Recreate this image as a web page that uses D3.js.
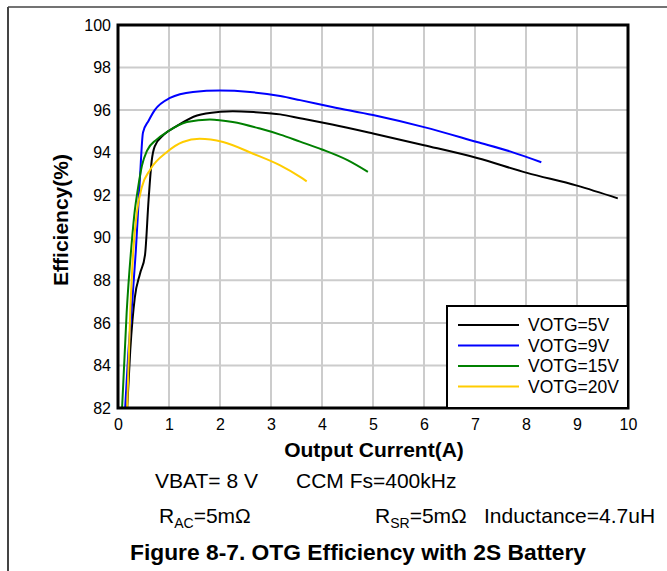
<!DOCTYPE html>
<html><head><meta charset="utf-8">
<script src="https://cdn.jsdelivr.net/npm/d3@7"></script>
<style>body{margin:0;background:#fff}svg{display:block;font-family:Arial,"Liberation Sans",sans-serif}</style>
</head><body>
<script>
const seriesNames = ["VOTG=5V","VOTG=9V","VOTG=15V","VOTG=20V"];
const seriesColors = ["#000000","#0000ff","#008000","#ffcc00"];
const xTicks = [0,1,2,3,4,5,6,7,8,9,10];
const yTicks = [82,84,86,88,90,92,94,96,98,100];
const v5  = [[0.18,82],[0.24,84.7],[0.33,87.2],[0.43,88.3],[0.53,89.2],[0.6,91.8],[0.66,93.6],[0.72,94.3],[0.9,94.85],[1.15,95.25],[1.55,95.75],[2.0,95.92],[2.25,95.95],[2.7,95.9],[3.18,95.8],[3.57,95.62],[4.2,95.32],[5.0,94.9],[6.0,94.35],[7.04,93.75],[8.02,93.05],[9.0,92.45],[9.8,91.85]];
const v9  = [[0.14,82],[0.2,84.5],[0.27,86.7],[0.35,89.4],[0.43,92.8],[0.49,94.95],[0.6,95.5],[0.72,96.0],[1.02,96.57],[1.47,96.85],[2.0,96.92],[2.59,96.85],[3.18,96.66],[3.57,96.47],[4.2,96.15],[5.0,95.77],[6.0,95.2],[7.04,94.5],[7.7,94.05],[8.3,93.55]];
const v15 = [[0.08,82],[0.17,86.5],[0.27,89.8],[0.33,91.3],[0.39,92.3],[0.47,93.4],[0.57,94.1],[0.75,94.6],[0.96,94.97],[1.35,95.44],[1.8,95.56],[2.25,95.44],[2.8,95.12],[3.18,94.85],[3.57,94.52],[4.0,94.15],[4.5,93.65],[4.9,93.1]];
const v20 = [[0.18,82],[0.24,86.5],[0.3,89.4],[0.37,91.2],[0.47,92.4],[0.63,93.2],[0.96,94.03],[1.27,94.5],[1.6,94.65],[2.06,94.5],[2.65,93.95],[3.18,93.4],[3.57,92.86],[3.7,92.65]];
const allSeries = [v5,v9,v15,v20];

const W=667,H=571;
const svg=d3.select("body").append("svg").attr("width",W).attr("height",H);
// page frame
svg.append("line").attr("x1",8).attr("x2",W).attr("y1",7).attr("y2",7).attr("stroke","#444").attr("stroke-width",1.5);
svg.append("line").attr("x1",8).attr("x2",8).attr("y1",7).attr("y2",H).attr("stroke","#444").attr("stroke-width",2);

const L=118,R=628,T=25,B=408;
const x=d3.scaleLinear().domain([0,10]).range([L,R]);
const y=d3.scaleLinear().domain([82,100]).range([B,T]);

// grid
svg.append("g").selectAll("line").data(xTicks.slice(1,-1)).join("line")
  .attr("x1",d=>x(d)).attr("x2",d=>x(d)).attr("y1",T).attr("y2",B).attr("stroke","#cccccc").attr("stroke-width",2);
svg.append("g").selectAll("line").data(yTicks.slice(1,-1)).join("line")
  .attr("x1",L).attr("x2",R).attr("y1",d=>y(d)).attr("y2",d=>y(d)).attr("stroke","#cccccc").attr("stroke-width",2);

// axes (labels)
const xa=svg.append("g").attr("transform",`translate(0,${B})`).call(d3.axisBottom(x).tickValues(xTicks).tickSize(0).tickPadding(11).tickFormat(d3.format("d")));
xa.select(".domain").remove();
xa.selectAll("text").attr("font-size",16).attr("fill","#000").attr("font-family","Arial,'Liberation Sans',sans-serif");
const ya=svg.append("g").attr("transform",`translate(${L},0)`).call(d3.axisLeft(y).tickValues(yTicks).tickSize(0).tickPadding(7).tickFormat(d3.format("d")));
ya.select(".domain").remove();
ya.selectAll("text").attr("font-size",16).attr("fill","#000").attr("font-family","Arial,'Liberation Sans',sans-serif");

// curves
svg.append("clipPath").attr("id","c").append("rect").attr("x",L).attr("y",T).attr("width",R-L).attr("height",B-T);
const line=d3.line().x(d=>x(d[0])).y(d=>y(d[1])).curve(d3.curveMonotoneX);
svg.append("g").attr("clip-path","url(#c)").selectAll("path").data(allSeries).join("path")
  .attr("d",line).attr("fill","none").attr("stroke",(d,i)=>seriesColors[i]).attr("stroke-width",2).attr("stroke-linejoin","round");

// plot border
svg.append("rect").attr("x",L).attr("y",T).attr("width",R-L).attr("height",B-T).attr("fill","none").attr("stroke","#000").attr("stroke-width",3);

// legend
const lg=svg.append("g");
lg.append("rect").attr("x",447).attr("y",306).attr("width",R-447).attr("height",B-306).attr("fill","#fff").attr("stroke","#000").attr("stroke-width",2);
seriesNames.forEach((n,i)=>{
  const yy=325+i*20.5;
  lg.append("line").attr("x1",458).attr("x2",519).attr("y1",yy).attr("y2",yy).attr("stroke",seriesColors[i]).attr("stroke-width",2);
  lg.append("text").attr("x",528).attr("y",yy+6).attr("font-size",17.5).text(n);
});

// axis titles
svg.append("text").attr("x",374).attr("y",457).attr("text-anchor","middle").attr("font-size",21).attr("font-weight","bold").text("Output Current(A)");
svg.append("text").attr("transform","translate(68,220) rotate(-90)").attr("text-anchor","middle").attr("font-size",21).attr("font-weight","bold").text("Efficiency(%)");

// annotations
const fs=21;
svg.append("text").attr("x",155).attr("y",488).attr("font-size",fs).text("VBAT= 8 V");
svg.append("text").attr("x",296).attr("y",488).attr("font-size",fs).text("CCM Fs=400kHz");
const t1=svg.append("text").attr("x",159).attr("y",523).attr("font-size",fs);
t1.append("tspan").text("R");
t1.append("tspan").attr("font-size",14).attr("dy",5).text("AC");
t1.append("tspan").attr("dy",-5).text("=5mΩ");
const t2=svg.append("text").attr("x",375).attr("y",523).attr("font-size",fs);
t2.append("tspan").text("R");
t2.append("tspan").attr("font-size",14).attr("dy",5).text("SR");
t2.append("tspan").attr("dy",-5).text("=5mΩ");
svg.append("text").attr("x",484).attr("y",523).attr("font-size",fs).text("Inductance=4.7uH");
svg.append("text").attr("x",130).attr("y",560).attr("font-size",22.8).attr("font-weight","bold").text("Figure 8-7. OTG Efficiency with 2S Battery");
</script>
</body></html>
